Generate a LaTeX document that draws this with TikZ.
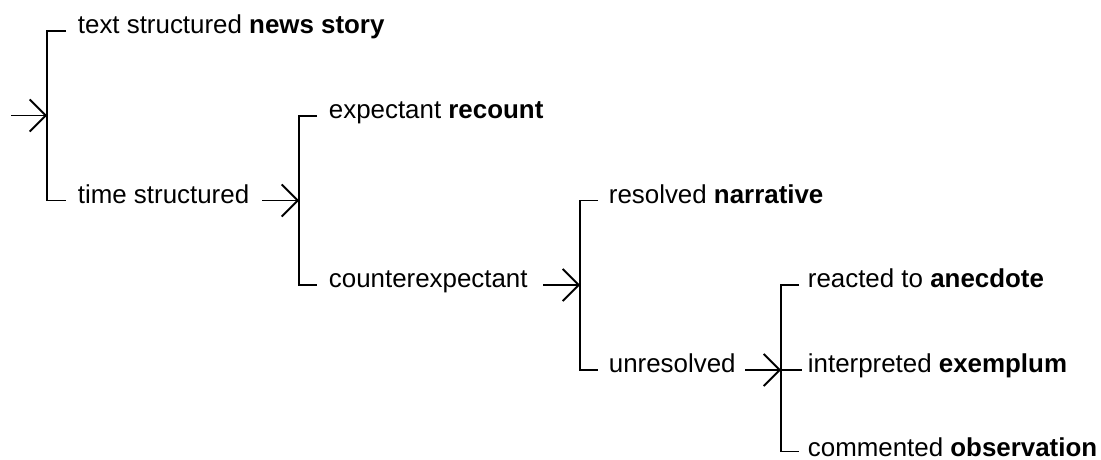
\documentclass[tikz,border=0pt]{standalone}
\usepackage{fontspec}
\setmainfont{Liberation Sans}
\usetikzlibrary{arrows.meta}
\begin{document}
\begin{tikzpicture}[x=1pt,y=-1pt,
  line width=1.8pt,
  feat/.style={anchor=mid west, inner sep=0pt, font=\fontsize{25.9}{30}\selectfont},
  entry/.style={-{Straight Barb[length=16pt,width=32pt]}},
  choice/.style={line join=miter}
]
\useasboundingbox (0,0) rectangle (1101,460);

% rows of the network
\def\rA{31}\def\rB{116}\def\rC{200.5}\def\rD{285}\def\rE{370}\def\rF{451.5}

% system 1: text structured / time structured
\coordinate (in1) at (11,115.5);
\coordinate (b1t) at (47,\rA);
\coordinate (b1m) at (47,115.5);
\coordinate (b1b) at (47,\rC);
\coordinate (s1t) at (66,\rA);
\coordinate (s1b) at (66,\rC);
\node[feat] (news) at (77,\rA) {text structured \textbf{news story}};
\node[feat] (time) at (77,\rC) {time structured};

% system 2: expectant / counterexpectant
\coordinate (in2) at (262,\rC);
\coordinate (b2t) at (299,\rB);
\coordinate (b2m) at (299,\rC);
\coordinate (b2b) at (299,\rD);
\coordinate (s2t) at (317,\rB);
\coordinate (s2b) at (317,\rD);
\node[feat] (recount) at (328,\rB) {expectant \textbf{recount}};
\node[feat] (counter) at (328,\rD) {counterexpectant};

% system 3: resolved / unresolved
\coordinate (in3) at (543,\rD);
\coordinate (b3t) at (580,\rC);
\coordinate (b3m) at (580,\rD);
\coordinate (b3b) at (580,\rE);
\coordinate (s3t) at (598,\rC);
\coordinate (s3b) at (598,\rE);
\node[feat] (narr) at (608,\rC) {resolved \textbf{narrative}};
\node[feat] (unres) at (608,\rE) {unresolved};

% system 4: reacted to / interpreted / commented
\coordinate (in4) at (745,\rE);
\coordinate (b4t) at (781,\rD);
\coordinate (b4m) at (781,\rE);
\coordinate (b4b) at (781,\rF);
\coordinate (s4t) at (799,\rD);
\coordinate (s4m) at (802,\rE);
\coordinate (s4b) at (799,\rF);
\node[feat] (anec) at (807,\rD) {reacted to \textbf{anecdote}};
\node[feat] (exem) at (807,\rE) {interpreted \textbf{exemplum}};
\node[feat, anchor=base west] (obs) at (807,456) {commented \textbf{observation}};

% brackets
\draw[choice] (s1t) -- (b1t) -- (b1b) -- (s1b);
\draw[choice] (s2t) -- (b2t) -- (b2b) -- (s2b);
\draw[choice] (s3t) -- (b3t) -- (b3b) -- (s3b);
\draw[choice] (s4t) -- (b4t) -- (b4b) -- (s4b);
\draw (b4m) -- (s4m);

% entry conditions
\draw[entry] (in1) -- (b1m);
\draw[entry] (in2) -- (b2m);
\draw[entry] (in3) -- (b3m);
\draw[entry] (in4) -- (b4m);
\end{tikzpicture}
\end{document}
